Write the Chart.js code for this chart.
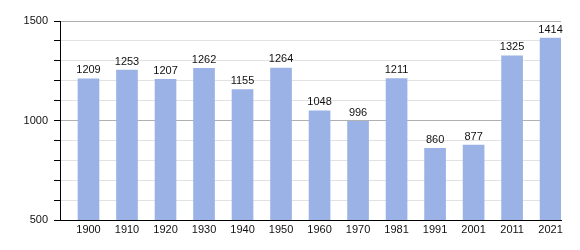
<!DOCTYPE html>
<html>
<head>
<meta charset="utf-8">
<script src="https://cdn.jsdelivr.net/npm/chart.js@4.4.1/dist/chart.umd.min.js"></script>
<style>
  html, body { margin: 0; padding: 0; background: #fff; }
  #wrap { width: 580px; height: 250px; }
</style>
</head>
<body>
<div id="wrap"><canvas id="chart" width="580" height="250"></canvas></div>
<script>
"use strict";

// chart data
const years = ["1900", "1910", "1920", "1930", "1940", "1950", "1960", "1970", "1981", "1991", "2001", "2011", "2021"];
const population = [1209, 1253, 1207, 1262, 1155, 1264, 1048, 996, 1211, 860, 877, 1325, 1414];
const yTickLabels = [500, 1000, 1500];

// bar values drawn on top of each bar
const barLabels = {
  id: "barLabels",
  afterDatasetsDraw(chart) {
    const ctx = chart.ctx;
    const meta = chart.getDatasetMeta(0);
    ctx.save();
    ctx.font = "11px 'Liberation Sans', Arial, sans-serif";
    ctx.fillStyle = "#111";
    ctx.textAlign = "center";
    ctx.textBaseline = "bottom";
    meta.data.forEach((bar, i) => {
      ctx.fillText(String(population[i]), bar.x, bar.y - 3);
    });
    ctx.restore();
  },
};

function renderChart() {
  const ctx = document.getElementById("chart");

  new Chart(ctx, {
    type: "bar",
    data: {
      datasets: [
        {
          data: population.map((v, i) => ({ x: i, y: v })),
          backgroundColor: "#9ab2e5",
          borderWidth: 0,
          barThickness: 21,
        },
      ],
    },
    options: {
      responsive: false,
      animation: false,
      events: [],
      layout: { padding: { top: 21, right: 19, left: 0, bottom: 0 } },
      plugins: { legend: { display: false }, tooltip: { enabled: false } },
      scales: {
        x: {
          type: "linear",
          offset: false,
          min: -0.74,
          max: 12.27,
          afterBuildTicks: (axis) => {
            axis.ticks = years.map((y, i) => ({ value: i }));
          },
          afterFit: (axis) => {
            axis.height = 30;
          },
          grid: { display: false, drawTicks: false, offset: false },
          border: { display: true, color: "#000", width: 1 },
          ticks: {
            padding: 3,
            maxRotation: 0,
            autoSkip: false,
            color: "#111",
            font: { family: "'Liberation Sans', Arial, sans-serif", size: 11 },
            callback: (v) => years[v],
          },
        },
        y: {
          min: 500,
          max: 1500,
          afterFit: (axis) => {
            axis.width = 60;
          },
          grid: {
            color: (c) => (c.tick && c.tick.value % 500 === 0 ? "#b0b0b0" : "#e2e2e2"),
            tickColor: "#000",
            tickLength: 6,
          },
          border: { display: true, color: "#000", width: 1 },
          ticks: {
            stepSize: 100,
            padding: 6,
            color: "#111",
            font: { family: "'Liberation Sans', Arial, sans-serif", size: 11 },
            callback: (v) => (yTickLabels.includes(v) ? String(v) : ""),
          },
        },
      },
    },
    plugins: [barLabels],
  });
}

renderChart();
</script>
</body>
</html>
